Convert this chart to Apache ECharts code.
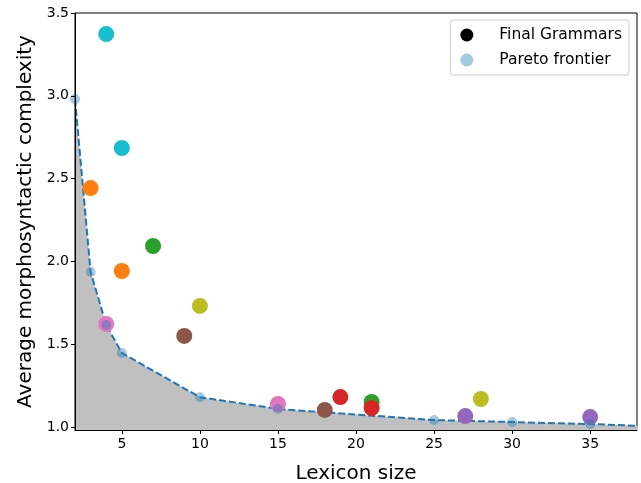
<!DOCTYPE html>
<html>
<head>
<meta charset="utf-8">
<script src="https://cdn.jsdelivr.net/npm/echarts@6/dist/echarts.min.js"></script>
<style>
html,body{margin:0;padding:0;background:#fff;}
#chart{width:641px;height:483px;}
</style>
</head>
<body>
<div id="chart"></div>
<script>
// pareto frontier
const paretoX = [2, 3, 4, 5, 10, 15, 25, 30, 35, 40]
const paretoY = [2.98, 1.936, 1.616, 1.447, 1.18, 1.109, 1.042, 1.03, 1.018, 1.0]
// final grammars (pairs share a colour group)
const grammarX = [4, 5, 3, 5, 7, 21, 10, 28, 4, 15, 9, 18, 19, 21, 27, 35]
const grammarY = [3.373, 2.685, 2.443, 1.942, 2.093, 1.151, 1.731, 1.169, 1.622, 1.139, 1.55, 1.103, 1.181, 1.115, 1.066, 1.06]
const grammarGroup = [0, 0, 1, 1, 2, 2, 3, 3, 4, 4, 5, 5, 6, 6, 7, 7]
const xTicks = [5, 10, 15, 20, 25, 30, 35]
const yTicks = [1.0, 1.5, 2.0, 2.5, 3.0, 3.5]

const palette = ['#17becf', '#ff7f0e', '#2ca02c', '#bcbd22', '#e377c2', '#8c564b', '#d62728', '#9467bd']
const font = 'DejaVu Sans'

const chart = echarts.init(document.getElementById('chart'))
chart.setOption({
    animation: false,
    textStyle: {fontFamily: font},
    grid: {
        left: 75, right: 4, top: 13, bottom: 53,
        outerBoundsMode: 'none', containLabel: false,
        show: true, borderColor: '#000', borderWidth: 1
    },
    legend: {
        orient: 'vertical',
        right: 12, top: 20,
        padding: [7, 7, 7, 10],
        itemGap: 9,
        itemWidth: 13, itemHeight: 13,
        borderColor: '#cccccc', borderWidth: 1, borderRadius: 3,
        textStyle: {fontSize: 15.5, color: '#000', fontFamily: font, padding: [0, 0, 0, 21]},
        data: [
            {name: 'Final Grammars', icon: 'circle', itemStyle: {color: '#000'}},
            {name: 'Pareto frontier', icon: 'circle', itemStyle: {color: 'rgba(31,119,180,0.5)'}}
        ]
    },
    xAxis: {
        type: 'value', min: 2, max: 38, z: 10,
        name: 'Lexicon size', nameLocation: 'middle', nameGap: 34,
        nameTextStyle: {fontSize: 20, color: '#000', fontFamily: font},
        splitLine: {show: false},
        axisLine: {show: true, lineStyle: {color: '#000'}},
        axisTick: {show: true, customValues: xTicks, length: 4, lineStyle: {color: '#000'}},
        axisLabel: {customValues: xTicks, fontSize: 14, color: '#000', margin: 7}
    },
    yAxis: {
        type: 'value', min: 0.982, max: 3.5, z: 10,
        name: 'Average morphosyntactic complexity', nameLocation: 'middle', nameGap: 39,
        nameTextStyle: {fontSize: 20, color: '#000', fontFamily: font},
        splitLine: {show: false},
        axisLine: {show: true, lineStyle: {color: '#000'}},
        axisTick: {show: true, customValues: yTicks, length: 4, lineStyle: {color: '#000'}},
        axisLabel: {customValues: yTicks, fontSize: 14, color: '#000', margin: 6,
            formatter: v => v.toFixed(1)}
    },
    series: [
        {
            name: 'frontier line',
            type: 'line',
            data: paretoX.map((x, i) => [x, paretoY[i]]),
            showSymbol: false,
            lineStyle: {color: '#1f77b4', width: 2, type: [7, 3]},
            areaStyle: {color: '#c0c0c0', opacity: 1, origin: 'start'},
            z: 1
        },
        {
            name: 'Final Grammars',
            type: 'scatter',
            symbolSize: 16,
            itemStyle: {color: '#000', opacity: 1},
            data: grammarX.map((x, i) => ({
                value: [x, grammarY[i]],
                itemStyle: {color: palette[grammarGroup[i]]}
            })),
            z: 3
        },
        {
            name: 'Pareto frontier',
            type: 'scatter',
            symbolSize: 10,
            itemStyle: {color: 'rgba(31,119,180,0.5)'},
            data: paretoX.map((x, i) => [x, paretoY[i]]),
            z: 4
        }
    ]
})
</script>
</body>
</html>
